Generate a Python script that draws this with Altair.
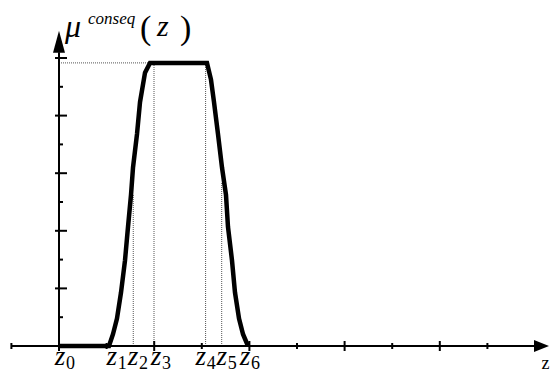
import altair as alt
import pandas as pd

# membership curve
curve_x = [0, 1.05, 1.134, 1.218, 1.303, 1.387, 1.450, 1.513, 1.555, 1.639, 1.702, 1.807, 1.912,
           3.109, 3.193, 3.256, 3.340, 3.424, 3.508, 3.550, 3.634, 3.697, 3.782, 3.866, 3.971]
curve_y = [0, 0, 0.041, 0.095, 0.186, 0.298, 0.414, 0.525, 0.620, 0.736, 0.847, 0.949, 0.983,
           0.983, 0.925, 0.847, 0.736, 0.620, 0.525, 0.414, 0.298, 0.186, 0.095, 0.041, 0]

# z labels
z_subs = ["0", "1", "2", "3", "4", "5", "6"]
z_label_x = [0.02, 1.11, 1.555, 2.04, 2.98, 3.42, 3.91]

# dotted guide lines
guide_x = [1.56, 1.996, 3.08, 3.418]
guide_top = [0.525, 0.983, 0.983, 0.566]
plateau = 0.983
plateau_start = 1.912

# axis ticks
x_major = [0, 2, 4, 6, 8, 10]
x_minor = [-1, 1, 3, 5, 7, 9]
y_major = [0.2, 0.4, 0.6, 0.8, 1.0]
y_minor = [0.1, 0.3, 0.5, 0.7, 0.9]

PXX = 47.6   # px per x unit
PXY = 288.0  # px per y unit
W, H = 542, 366
x0_px, y0_px = 51, 338
xs = alt.Scale(domain=[-x0_px / PXX, (W - x0_px) / PXX], nice=False, zero=False)
ys = alt.Scale(domain=[-(H - y0_px) / PXY, y0_px / PXY], nice=False, zero=False)

def X(f):
    return alt.X(f, type="quantitative", scale=xs, axis=None)

def Y(f):
    return alt.Y(f, type="quantitative", scale=ys, axis=None)

SERIF = "Liberation Serif"

def txt(df, size, italic=False, align="left", dx=0):
    kw = dict(font=SERIF, fontSize=size, align=align, baseline="alphabetic", color="black")
    if italic:
        kw["fontStyle"] = "italic"
    if dx:
        kw["dx"] = dx
    return alt.Chart(df).mark_text(**kw)

curve = alt.Chart(pd.DataFrame({"x": curve_x, "y": curve_y, "o": range(len(curve_x))})).mark_line(
    color="black", strokeWidth=4.5).encode(x=X("x"), y=Y("y"), order="o:Q")

# axes lines
xaxis = alt.Chart(pd.DataFrame({"x": [-1.0], "x2": [10.14], "y": [0.0]})).mark_rule(
    color="black", strokeWidth=2).encode(x=X("x"), x2="x2", y=Y("y"))
yaxis = alt.Chart(pd.DataFrame({"x": [0.0], "y": [0.0], "y2": [1.02]})).mark_rule(
    color="black", strokeWidth=2).encode(x=X("x"), y=Y("y"), y2="y2")

# arrowheads
xarrow = alt.Chart(pd.DataFrame({"x": [10.137], "y": [0.0]})).mark_point(
    shape="M-1,-0.8L1,0L-1,0.8Z", size=225, filled=True, color="black", opacity=1,
    strokeWidth=0).encode(x=X("x"), y=Y("y"))
yarrow = alt.Chart(pd.DataFrame({"x": [0.0], "y": [1.056]})).mark_point(
    shape="M-0.545,1L0,-1L0.545,1Z", size=484, filled=True, color="black", opacity=1,
    strokeWidth=0).encode(x=X("x"), y=Y("y"))

# ticks
xmaj = pd.DataFrame({"x": x_major})
xmaj["y"] = -5 / PXY
xmaj["y2"] = 5 / PXY
xmin = pd.DataFrame({"x": x_minor})
xmin["y"] = -3 / PXY
xmin["y2"] = 3 / PXY
xt = pd.concat([xmaj, xmin])
xticks = alt.Chart(xt).mark_rule(color="black", strokeWidth=2).encode(x=X("x"), y=Y("y"), y2="y2")

ymaj = pd.DataFrame({"y": y_major})
ymaj["x"] = -4 / PXX
ymaj["x2"] = 8 / PXX
ymin = pd.DataFrame({"y": y_minor})
ymin["x"] = 0.0
ymin["x2"] = 4 / PXX
yt = pd.concat([ymaj, ymin])
yticks = alt.Chart(yt).mark_rule(color="black", strokeWidth=2).encode(y=Y("y"), x=X("x"), x2="x2")

# dotted guides
gv = pd.DataFrame({"x": guide_x, "y": 0.0, "y2": guide_top})
vguides = alt.Chart(gv).mark_rule(color="#555", strokeWidth=1, strokeDash=[1, 1]).encode(
    x=X("x"), y=Y("y"), y2="y2")
gh = pd.DataFrame({"x": [0.0], "x2": [plateau_start], "y": [plateau]})
hguide = alt.Chart(gh).mark_rule(color="#555", strokeWidth=1, strokeDash=[1, 1]).encode(
    x=X("x"), x2="x2", y=Y("y"))

# z labels
zl = pd.DataFrame({"x": z_label_x, "sub": z_subs})
zl["t"] = "z"
zl["y"] = -19 / PXY
zl["ys"] = -23 / PXY
zletters = txt(zl, 27, italic=True, align="center").encode(x=X("x"), y=Y("y"), text="t:N")
zsubs = txt(zl, 18, align="left", dx=6).encode(x=X("x"), y=Y("ys"), text="sub:N")

# axis name z
zname = txt(pd.DataFrame({"x": [10.22], "y": [-23 / PXY], "t": ["z"]}), 18, align="center").encode(
    x=X("x"), y=Y("y"), text="t:N")

# mu^conseq (z)
mu = txt(pd.DataFrame({"x": [6 / PXX], "y": [309 / PXY], "t": ["μ"]}), 32, italic=True).encode(
    x=X("x"), y=Y("y"), text="t:N")
conseq = txt(pd.DataFrame({"x": [29 / PXX], "y": [322 / PXY], "t": ["conseq"]}), 17, italic=True).encode(
    x=X("x"), y=Y("y"), text="t:N")
parens = txt(pd.DataFrame({"x": [81 / PXX, 121 / PXX], "y": [307 / PXY, 307 / PXY],
                           "t": ["(", ")"]}), 34).encode(x=X("x"), y=Y("y"), text="t:N")
zarg = txt(pd.DataFrame({"x": [98 / PXX], "y": [310 / PXY], "t": ["z"]}), 30, italic=True).encode(
    x=X("x"), y=Y("y"), text="t:N")

chart = alt.layer(
    hguide, vguides, xaxis, yaxis, xticks, yticks, curve, xarrow, yarrow,
    zletters, zsubs, zname, mu, conseq, parens, zarg
).properties(
    width=W, height=H, autosize=alt.AutoSizeParams(type="none"),
    padding={"left": 0, "right": 0, "top": 0, "bottom": 0}, background="white"
).configure_view(stroke=None).configure_text(font=SERIF)

chart.save("out.html", embed_options={"renderer": "svg", "actions": False})
